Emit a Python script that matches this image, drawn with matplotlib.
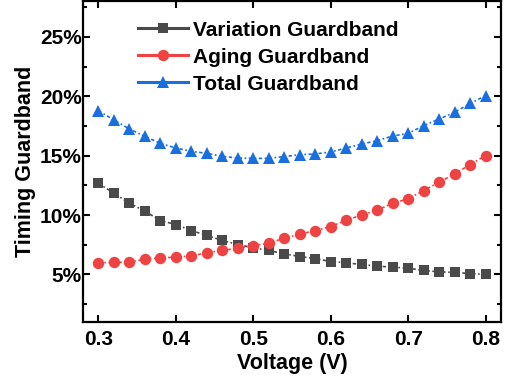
import numpy as np
import matplotlib.pyplot as plt
from matplotlib.lines import Line2D
from matplotlib.ticker import FuncFormatter, MultipleLocator

plt.rcParams['font.family'] = ['Liberation Sans', 'DejaVu Sans']
plt.rcParams['font.weight'] = 'bold'

voltage = [0.30, 0.32, 0.34, 0.36, 0.38, 0.40, 0.42, 0.44, 0.46, 0.48, 0.50, 0.52, 0.54,
           0.56, 0.58, 0.60, 0.62, 0.64, 0.66, 0.68, 0.70, 0.72, 0.74, 0.76, 0.78, 0.80]

variation = [12.67, 11.83, 11.00, 10.32, 9.54, 9.20, 8.70, 8.28, 7.86, 7.52, 7.24, 7.02, 6.74,
             6.51, 6.34, 6.09, 5.98, 5.84, 5.70, 5.62, 5.53, 5.34, 5.22, 5.17, 5.08, 5.00]
aging = [5.98, 6.03, 6.03, 6.29, 6.40, 6.45, 6.57, 6.82, 7.02, 7.21, 7.41, 7.63, 8.05,
         8.39, 8.70, 9.03, 9.56, 10.00, 10.40, 11.00, 11.36, 12.06, 12.76, 13.46, 14.24, 15.00]
total = [18.78, 18.00, 17.24, 16.62, 16.03, 15.64, 15.36, 15.19, 14.94, 14.80, 14.77, 14.77, 14.92,
         15.08, 15.14, 15.31, 15.64, 15.98, 16.26, 16.65, 16.87, 17.52, 18.08, 18.64, 19.39, 20.04]

series = [
    ("Variation Guardband", variation, "#4a4a4a", "s", 7.2),
    ("Aging Guardband", aging, "#ef4343", "o", 8.2),
    ("Total Guardband", total, "#1a6fde", "^", 9),
]

fig = plt.figure(figsize=(5.11, 3.77), dpi=100)
ax = fig.add_axes([0.1624, 0.1459, 0.818, 0.851])

handles = []
for name, vals, color, marker, ms in series:
    ax.plot(voltage, vals, color=color, marker=marker, markersize=ms,
            markeredgewidth=0, linestyle=(0, (2, 1.5, 1, 1.5)), linewidth=1.2)
    handles.append(Line2D([], [], color=color, marker=marker, markersize=ms,
                          markeredgewidth=0, linewidth=2.2, label=name))

ax.set_xlim(0.28, 0.82)
ax.set_ylim(1.0, 28.0)
ax.xaxis.set_major_locator(MultipleLocator(0.1))
ax.yaxis.set_major_locator(MultipleLocator(5))
ax.yaxis.set_minor_locator(MultipleLocator(2.5))
ax.yaxis.set_major_formatter(FuncFormatter(lambda v, p: f"{v:.0f}%"))
ax.xaxis.set_major_formatter(FuncFormatter(lambda v, p: f"{v:.1f}"))

ax.tick_params(which='both', direction='in', top=True, right=True, width=1.5,
               labelsize=15)
ax.tick_params(which='major', length=5)
ax.tick_params(which='minor', length=3)
ax.tick_params(axis='y', pad=1)
ax.tick_params(axis='x', pad=6)
for s in ax.spines.values():
    s.set_linewidth(1.6)

ax.set_xlabel("Voltage (V)", fontsize=15.5, fontweight='bold', labelpad=3)
ax.set_ylabel("Timing Guardband", fontsize=15.5, fontweight='bold', labelpad=3)

ax.legend(handles=handles, loc='upper left', bbox_to_anchor=(0.112, 0.965),
          frameon=False, fontsize=15, handlelength=2.4, handletextpad=0.25,
          labelspacing=0.38, borderaxespad=0)

fig.savefig("out.png", dpi=100)
